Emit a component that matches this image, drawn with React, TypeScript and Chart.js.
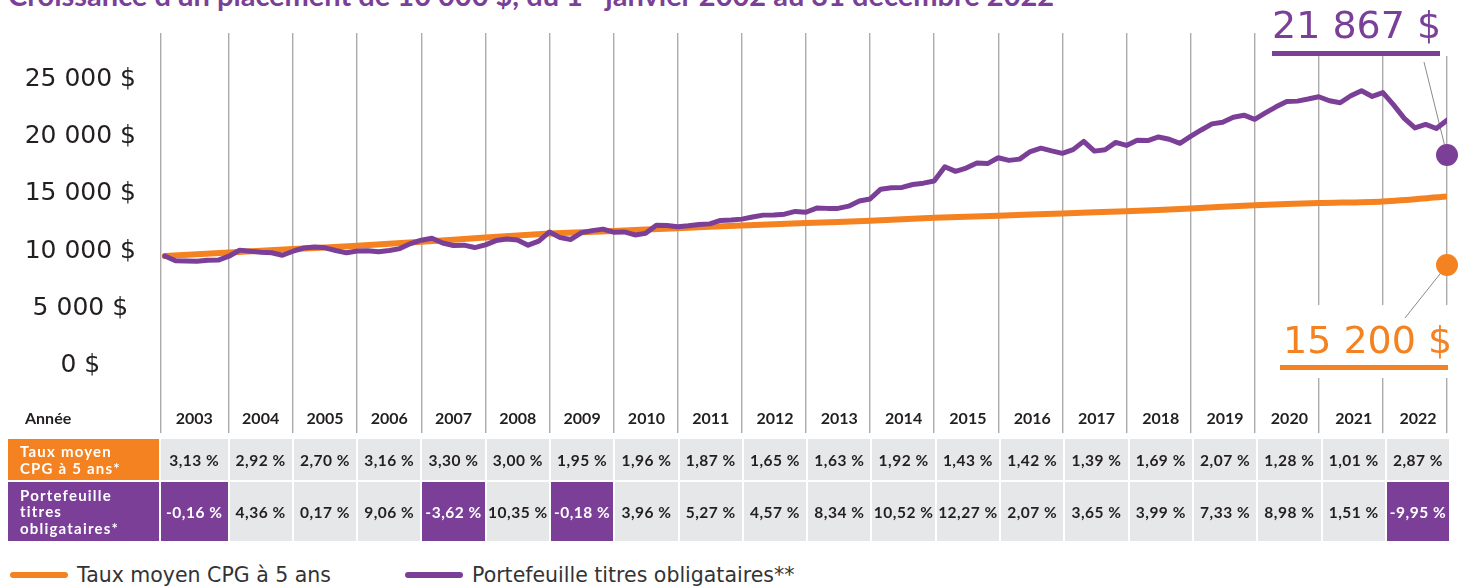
import React, { useEffect, useRef } from 'react';
import { Chart, registerables } from 'chart.js';

Chart.register(...registerables);

// ---------- data ----------
const YEARS = [2003, 2004, 2005, 2006, 2007, 2008, 2009, 2010, 2011, 2012, 2013, 2014, 2015, 2016, 2017, 2018, 2019, 2020, 2021, 2022];

const CPG_RATES = ['3,13 %', '2,92 %', '2,70 %', '3,16 %', '3,30 %', '3,00 %', '1,95 %', '1,96 %', '1,87 %', '1,65 %', '1,63 %', '1,92 %', '1,43 %', '1,42 %', '1,39 %', '1,69 %', '2,07 %', '1,28 %', '1,01 %', '2,87 %'];

const BOND_RETURNS = ['-0,16 %', '4,36 %', '0,17 %', '9,06 %', '-3,62 %', '10,35 %', '-0,18 %', '3,96 %', '5,27 %', '4,57 %', '8,34 %', '10,52 %', '12,27 %', '2,07 %', '3,65 %', '3,99 %', '7,33 %', '8,98 %', '1,51 %', '-9,95 %'];

// CPG growth: start value, then value at the end of each year
const CPG_GROWTH = [10000, 10313, 10614, 10901, 11245, 11616, 11965, 12198, 12437, 12670, 12879, 13089, 13340, 13531, 13723, 13913, 14148, 14441, 14626, 14774, 15198];

// Bond portfolio growth: start value, then 6 readings per year
const BOND_GROWTH = [
  10000,
  9580, 9560, 9540, 9640, 9650, 9984,
  10515, 10420, 10330, 10290, 10070, 10419,
  10700, 10785, 10715, 10480, 10280, 10437,
  10460, 10370, 10480, 10650, 11090, 11383,
  11550, 11135, 10920, 10950, 10740, 10971,
  11350, 11480, 11410, 10950, 11300, 12107,
  11610, 11450, 12046, 12220, 12352, 12085,
  12110, 11845, 11980, 12680, 12660, 12564,
  12640, 12760, 12810, 13110, 13150, 13226,
  13410, 13575, 13585, 13660, 13900, 13830,
  14190, 14165, 14165, 14360, 14810, 14983,
  15840, 15960, 16000, 16250, 16370, 16559,
  17800, 17400, 17690, 18140, 18080, 18591,
  18360, 18470, 19130, 19430, 19190, 18976,
  19300, 20020, 19170, 19290, 19930, 19668,
  20120, 20090, 20410, 20210, 19850, 20453,
  21020, 21550, 21700, 22130, 22310, 21952,
  22510, 23040, 23500, 23540, 23720, 23923,
  23570, 23395, 24010, 24450, 23950, 24284,
  23210, 22030, 21200, 21500, 21150, 21868,
];

const Y_TICKS = [0, 5000, 10000, 15000, 20000, 25000];

const PURPLE_FINAL_LABEL = '21 867 $';
const ORANGE_FINAL_LABEL = '15 200 $';
const PURPLE_MARKER = 18830;
const ORANGE_MARKER = 9210;

// ---------- style ----------
const PURPLE = '#7b3f98';
const ORANGE = '#f58220';
const GRID = '#ababab';
const CELL_BG = '#e6e7e8';
const TEXT = '#231f20';

const X_START = 2003;
const X_MIN = 2002.94;
const X_MAX = 2023;
const POINTS_PER_YEAR = 6;

const finalLabelsPlugin = {
  id: 'finalLabels',
  beforeDatasetsDraw(chart: any) {
    const { ctx, scales } = chart;
    const px = scales.x.getPixelForValue(X_MAX);
    const pPurple = scales.y.getPixelForValue(PURPLE_MARKER);
    const pOrange = scales.y.getPixelForValue(ORANGE_MARKER);
    ctx.save();
    ctx.fillStyle = '#ffffff';
    ctx.fillRect(px - 185, 0, 220, 56);
    ctx.fillRect(px - 172, 305, 220, 73);

    ctx.strokeStyle = '#8a8a8a';
    ctx.lineWidth = 1;
    ctx.beginPath();
    ctx.moveTo(px - 23, 62);
    ctx.lineTo(px, pPurple);
    ctx.stroke();
    ctx.beginPath();
    ctx.moveTo(px, pOrange);
    ctx.lineTo(px - 42, 318);
    ctx.stroke();

    ctx.font = '38px "DejaVu Sans"';
    ctx.textAlign = 'left';
    ctx.textBaseline = 'alphabetic';
    ctx.fillStyle = PURPLE;
    ctx.fillText(PURPLE_FINAL_LABEL, px - 175, 38);
    ctx.fillRect(px - 175, 51, 168, 5);
    ctx.fillStyle = ORANGE;
    ctx.fillText(ORANGE_FINAL_LABEL, px - 164, 353);
    ctx.fillRect(px - 167, 365, 168, 5);
    ctx.restore();
  },
};

function buildConfig(): any {
  const bondData = BOND_GROWTH.map((v, i) => ({ x: X_START + i / POINTS_PER_YEAR, y: v }));
  const cpgData = CPG_GROWTH.map((v, i) => ({ x: X_START + i, y: v }));
  return {
    type: 'line',
    data: {
      datasets: [
        {
          label: 'marker-bond',
          data: [{ x: X_MAX, y: PURPLE_MARKER }],
          showLine: false,
          pointRadius: 11,
          pointHoverRadius: 11,
          pointBackgroundColor: PURPLE,
          pointBorderWidth: 0,
          clip: false,
        },
        {
          label: 'marker-cpg',
          data: [{ x: X_MAX, y: ORANGE_MARKER }],
          showLine: false,
          pointRadius: 11,
          pointHoverRadius: 11,
          pointBackgroundColor: ORANGE,
          pointBorderWidth: 0,
          clip: false,
        },
        {
          label: 'Portefeuille titres obligataires**',
          data: bondData,
          borderColor: PURPLE,
          borderWidth: 5,
          pointRadius: 0,
          tension: 0,
          borderJoinStyle: 'round',
          borderCapStyle: 'round',
        },
        {
          label: 'Taux moyen CPG à 5 ans',
          data: cpgData,
          borderColor: ORANGE,
          borderWidth: 6,
          pointRadius: 0,
          tension: 0.3,
          borderCapStyle: 'round',
        },
      ],
    },
    options: {
      animation: false,
      responsive: false,
      devicePixelRatio: 1,
      events: [],
      layout: { autoPadding: false, padding: { top: 33, right: 27, bottom: 2, left: 0 } },
      plugins: { legend: { display: false }, tooltip: { enabled: false } },
      scales: {
        x: {
          type: 'linear',
          min: X_MIN,
          max: X_MAX,
          afterBuildTicks: (s: any) => {
            s.ticks = [X_MIN, ...YEARS.slice(1), X_MAX].map((v) => ({ value: v }));
          },
          grid: { display: true, color: GRID, lineWidth: 1.4, drawTicks: false },
          border: { display: false },
          ticks: { display: false },
        },
        y: {
          type: 'linear',
          min: -5470,
          max: 29495,
          afterBuildTicks: (s: any) => {
            s.ticks = Y_TICKS.map((v) => ({ value: v }));
          },
          afterFit: (s: any) => {
            s.width = 161;
          },
          grid: { display: false, drawTicks: true, tickLength: 25 },
          border: { display: false },
          ticks: {
            crossAlign: 'center',
            padding: 0,
            labelOffset: -5,
            color: TEXT,
            font: { family: '"DejaVu Sans"', size: 25, lineHeight: 0.1 },
            callback: (v: number) => (v === 0 ? '0 $' : `${v / 1000} 000 $`),
          },
        },
      },
    },
    plugins: [finalLabelsPlugin],
  };
}

const COLS = '151px 66.5px repeat(19, 62.3px)';

function Table() {
  const cell = (bg: string, color: string): React.CSSProperties => ({
    background: bg,
    color,
    display: 'flex',
    alignItems: 'center',
    justifyContent: 'center',
    fontWeight: 700,
    fontSize: 15.5,
    letterSpacing: 0.5,
    whiteSpace: 'nowrap',
  });
  const rowLabel = (bg: string): React.CSSProperties => ({
    background: bg,
    color: '#ffffff',
    display: 'flex',
    alignItems: 'center',
    paddingLeft: 12,
    fontWeight: 700,
    fontSize: 15,
    lineHeight: '16.5px',
    letterSpacing: 1.2,
  });
  return (
    <>
      <div
        style={{
          position: 'absolute',
          left: 8,
          top: 400,
          height: 34,
          display: 'grid',
          gridTemplateColumns: COLS,
          columnGap: 2,
          fontWeight: 700,
          fontSize: 16,
          color: TEXT,
        }}
      >
        <div style={{ display: 'flex', alignItems: 'center', paddingLeft: 17 }}>Année</div>
        {YEARS.map((y) => (
          <div key={y} style={{ display: 'flex', alignItems: 'center', justifyContent: 'center' }}>
            {y}
          </div>
        ))}
      </div>
      <div
        style={{
          position: 'absolute',
          left: 8,
          top: 439,
          display: 'grid',
          gridTemplateColumns: COLS,
          gridTemplateRows: '41px 59px',
          columnGap: 2,
          rowGap: 2,
        }}
      >
        <div style={rowLabel(ORANGE)}>
          Taux moyen
          <br />
          CPG à 5 ans*
        </div>
        {CPG_RATES.map((r, i) => (
          <div key={'c' + i} style={cell(CELL_BG, TEXT)}>
            {r}
          </div>
        ))}
        <div style={rowLabel(PURPLE)}>
          Portefeuille
          <br />
          titres
          <br />
          obligataires*
        </div>
        {BOND_RETURNS.map((r, i) => {
          const neg = r.startsWith('-');
          return (
            <div key={'b' + i} style={cell(neg ? PURPLE : CELL_BG, neg ? '#ffffff' : TEXT)}>
              {r}
            </div>
          );
        })}
      </div>
    </>
  );
}

function Legend() {
  const item = (left: number, color: string, label: string) => (
    <div style={{ position: 'absolute', left, top: 563, height: 24, display: 'flex', alignItems: 'center' }}>
      <div style={{ width: 58, height: 6, borderRadius: 3, background: color, marginRight: 9 }} />
      <span style={{ fontFamily: '"DejaVu Sans"', fontSize: 20.5, color: '#333333', whiteSpace: 'nowrap' }}>{label}</span>
    </div>
  );
  return (
    <>
      {item(10, ORANGE, 'Taux moyen CPG à 5 ans')}
      {item(405, PURPLE, 'Portefeuille titres obligataires**')}
    </>
  );
}

export default function App() {
  const canvasRef = useRef<HTMLCanvasElement>(null);
  useEffect(() => {
    const chart = new Chart(canvasRef.current as HTMLCanvasElement, buildConfig());
    return () => chart.destroy();
  }, []);
  return (
    <div
      style={{
        position: 'absolute',
        left: 0,
        top: 0,
        width: 1474,
        height: 587,
        overflow: 'hidden',
        background: '#ffffff',
        fontFamily: 'Lato, sans-serif',
      }}
    >
      <div
        style={{
          position: 'absolute',
          left: 8,
          top: -26,
          fontSize: 29,
          lineHeight: '29px',
          fontWeight: 700,
          color: PURPLE,
          whiteSpace: 'nowrap',
        }}
      >
        Croissance d’un placement de 10 000 $, du 1<sup style={{ fontSize: 17 }}>er</sup> janvier 2002 au 31 décembre 2022
      </div>
      <canvas ref={canvasRef} width={1474} height={435} style={{ position: 'absolute', left: 0, top: 0 }} />
      <Table />
      <Legend />
    </div>
  );
}
